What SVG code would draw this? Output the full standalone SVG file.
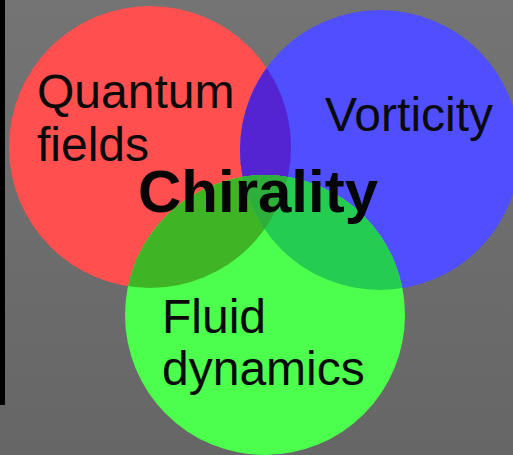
<svg xmlns="http://www.w3.org/2000/svg" width="513" height="455" viewBox="0 0 513 455">
  <defs>
    <linearGradient id="bg" x1="0" y1="0" x2="0" y2="1">
      <stop offset="0" stop-color="#747474"/>
      <stop offset="1" stop-color="#666666"/>
    </linearGradient>
    <clipPath id="clipRed"><circle cx="150" cy="147" r="141"/></clipPath>
    <clipPath id="clipBlue"><circle cx="380" cy="150" r="140"/></clipPath>
    <style>
      .lbl { font-family: "Liberation Sans", Arial, sans-serif; font-size: 48px; fill: #0a0a0a; }
      .title { font-family: "Liberation Sans", Arial, sans-serif; font-size: 60px; font-weight: bold; fill: #050505; }
    </style>
  </defs>
  <rect x="0" y="0" width="513" height="455" fill="url(#bg)"/>
  <rect x="0" y="0" width="5" height="405" fill="#000"/>

  <g id="quantum-fields">
    <circle cx="150" cy="147" r="141" fill="#ff4f4f"/>
  </g>
  <g id="vorticity">
    <circle cx="380" cy="150" r="140" fill="#4f4fff"/>
    <g clip-path="url(#clipRed)">
      <circle cx="380" cy="150" r="140" fill="#5524d2"/>
    </g>
  </g>
  <g id="fluid-dynamics">
    <circle cx="265" cy="315" r="140" fill="#4cff4c"/>
    <g clip-path="url(#clipRed)">
      <circle cx="265" cy="315" r="140" fill="#3fb526"/>
    </g>
    <g clip-path="url(#clipBlue)">
      <circle cx="265" cy="315" r="140" fill="#24cc52"/>
      <g clip-path="url(#clipRed)">
        <circle cx="265" cy="315" r="140" fill="#2eae3a"/>
      </g>
    </g>
  </g>

  <g id="labels">
    <text class="lbl" x="37" y="108">Quantum</text>
    <text class="lbl" x="37" y="161">fields</text>
    <text class="lbl" x="325" y="131">Vorticity</text>
    <text class="title" x="138" y="212">Chirality</text>
    <text class="lbl" x="162" y="333">Fluid</text>
    <text class="lbl" x="162" y="385">dynamics</text>
  </g>
</svg>
